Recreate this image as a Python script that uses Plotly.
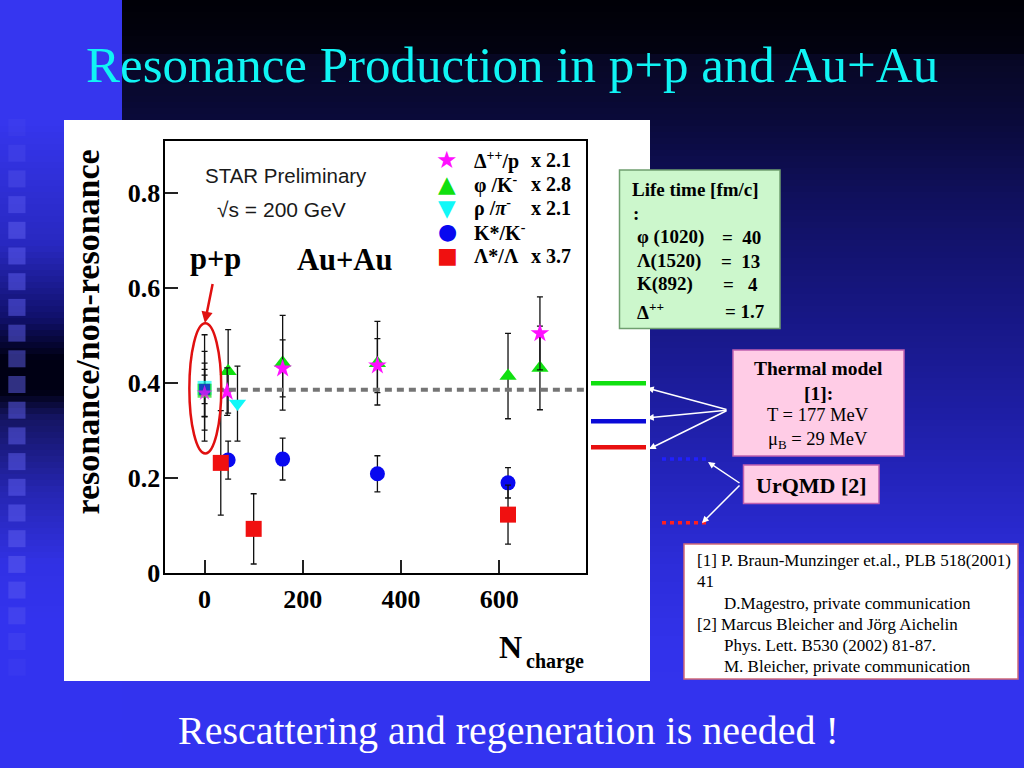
import plotly.graph_objects as go

# ---------------- data ----------------
x_ticks = [0, 200, 400, 600]
y_ticks = [0, 0.2, 0.4, 0.6, 0.8]
y_tick_labels = ["0", "0.2", "0.4", "0.6", "0.8"]

# Au+Au points
delta_x = [46, 159, 352, 683]
delta_y = [0.382, 0.431, 0.437, 0.505]
delta_err = [0.050, 0.060, 0.057, 0.077]

phi_x = [48, 159, 352, 618, 683]
phi_y = [0.425, 0.443, 0.442, 0.415, 0.432]
phi_err = [0.088, 0.100, 0.088, 0.090, 0.088]

rho_x = [67]
rho_y = [0.357]
rho_err = [0.079]

kstar_x = [48, 159, 352, 618]
kstar_y = [0.238, 0.240, 0.209, 0.190]
kstar_err = [0.040, 0.044, 0.038, 0.032]

lstar_x = [33, 100, 618]
lstar_y = [0.232, 0.093, 0.123]
lstar_err = [0.110, 0.074, 0.062]

# p+p points (order: Lambda*, rho, phi, K*, Delta)
pp_x = [0, 0, 0, 0, 0]
pp_y = [0.386, 0.390, 0.384, 0.387, 0.379]
pp_err = [0.056, 0.112, 0.083, 0.030, 0.050]

pp_level = 0.386
thermal_values = [0.400, 0.320, 0.265]   # green, blue, red
urqmd_values = [0.240, 0.106]            # blue, red

legend_names = ["Δ<sup>++</sup>/p", "φ /K<sup>-</sup>", "ρ /<i>π</i><sup>-</sup>", "K*/K<sup>-</sup>", "Λ*/Λ"]
legend_factors = ["x 2.1", "x 2.8", "x 2.1", "", "x 3.7"]
legend_glyphs = ["★", "▲", "▼", "●", "■"]

# ---------------- styling ----------------
W, H = 1024, 768
def PX(x):
    return x / W
def PY(y):
    return 1 - y / H

SERIF = "Liberation Serif, Times New Roman, serif"
SANS = "Liberation Sans, Arial, sans-serif"
SYM = "DejaVu Sans, sans-serif"

MAGENTA = "#ff10ff"
GREEN = "#10e010"
CYAN = "#10f8f8"
BLUE = "#0808f0"
RED = "#f01010"

X_RANGE = [-80, 776]
Y_RANGE = [0, 0.9096]
X_DOMAIN = [PX(165.3), PX(585.6)]
Y_DOMAIN = [PY(573.0), PY(141.3)]

fig = go.Figure()

series = [
    (kstar_x, kstar_y, kstar_err, "circle", 15, BLUE),
    (phi_x, phi_y, phi_err, "triangle-up", 15, GREEN),
    (rho_x, rho_y, rho_err, "triangle-down", 15, CYAN),
    (lstar_x, lstar_y, lstar_err, "square", 16, RED),
    (delta_x, delta_y, delta_err, "star", 14, MAGENTA),
]
for xs, ys, es, sym, size, col in series:
    fig.add_trace(go.Scatter(
        x=xs, y=ys, mode="markers",
        marker=dict(symbol=sym, size=size, color=col, line=dict(width=0)),
        error_y=dict(type="data", array=es, color="#111111", thickness=1.3, width=3),
        showlegend=False, cliponaxis=False, hoverinfo="skip"))

fig.add_trace(go.Scatter(
    x=pp_x, y=pp_y, mode="markers",
    marker=dict(symbol=["square", "square", "square", "square", "star"],
                size=[12, 14, 14, 11, 12],
                color=[RED, CYAN, GREEN, BLUE, MAGENTA], line=dict(width=0)),
    error_y=dict(type="data", array=pp_err, color="#111111", thickness=1.3, width=3),
    showlegend=False, cliponaxis=False, hoverinfo="skip"))

# ---------------- background ----------------
def lerp(stops, y):
    for (y0, c0), (y1, c1) in zip(stops, stops[1:]):
        if y0 <= y <= y1:
            t = 0 if y1 == y0 else (y - y0) / (y1 - y0)
            return "rgb(%d,%d,%d)" % tuple(round(a + (b - a) * t) for a, b in zip(c0, c1))
    return "rgb(%d,%d,%d)" % stops[-1][1]

right_stops = [(0, (0, 0, 6)), (52, (2, 2, 16)), (53, (7, 7, 34)), (120, (10, 10, 58)),
               (200, (16, 16, 94)), (300, (22, 22, 128)), (400, (29, 29, 160)),
               (480, (36, 36, 188)), (560, (44, 44, 216)), (640, (50, 50, 234)),
               (700, (51, 51, 238)), (768, (51, 51, 240))]
left_stops = [(0, (54, 54, 240)), (120, (54, 54, 238)), (245, (40, 40, 192)),
              (318, (16, 16, 106)), (358, (0, 0, 20)), (392, (0, 0, 20)),
              (416, (20, 20, 96)), (490, (37, 37, 176)), (563, (49, 49, 228)),
              (620, (51, 51, 238)), (768, (51, 51, 240))]

shapes = []
STEP = 6
for y in range(0, H, STEP):
    shapes.append(dict(type="rect", xref="paper", yref="paper", layer="below",
                       x0=PX(122), x1=1, y0=PY(y + STEP), y1=PY(y),
                       fillcolor=lerp(right_stops, y + STEP / 2), line=dict(width=0)))
    shapes.append(dict(type="rect", xref="paper", yref="paper", layer="below",
                       x0=0, x1=PX(122), y0=PY(y + STEP), y1=PY(y),
                       fillcolor=lerp(left_stops, y + STEP / 2), line=dict(width=0)))

# decorative squares column on the left strip
sq_tops = [401.7 + k * 25.7 for k in range(-11, 11)]
for i, t in enumerate(sq_tops):
    edge = min(i, len(sq_tops) - 1 - i)
    op = min(0.5, 0.12 + 0.1 * edge)
    shapes.append(dict(type="rect", xref="paper", yref="paper", layer="below",
                       x0=PX(8.3), x1=PX(25.5), y0=PY(t + 17), y1=PY(t),
                       fillcolor="rgba(95,95,240,%.2f)" % op, line=dict(width=0)))

# white picture panel
shapes.append(dict(type="rect", xref="paper", yref="paper", layer="below",
                   x0=PX(64), x1=PX(650), y0=PY(681), y1=PY(120),
                   fillcolor="white", line=dict(width=0)))

# text boxes
def box(x0, y0, x1, y1, fill, border, width=1.5):
    shapes.append(dict(type="rect", xref="paper", yref="paper", layer="below",
                       x0=PX(x0), x1=PX(x1), y0=PY(y1), y1=PY(y0),
                       fillcolor=fill, line=dict(color=border, width=width)))

box(619.5, 170, 780, 328.5, "#ccf7cc", "#6f9f6f")
box(733, 350, 904, 456, "#ffcce6", "#c060b0")
box(743.5, 465, 879, 503.5, "#ffcce6", "#c060b0")
box(684, 544, 1018, 679, "white", "#d06a78")

# p+p reference level (dashed)
shapes.append(dict(type="line", xref="x", yref="y", x0=25, x1=X_RANGE[1],
                   y0=pp_level, y1=pp_level,
                   line=dict(color="#757575", width=4, dash="7px,5px")))

# ellipse around p+p
shapes.append(dict(type="circle", xref="x", yref="y", x0=-31, x1=34, y0=0.252, y1=0.526,
                   line=dict(color="#e01010", width=2.5)))

# thermal model levels (solid) and UrQMD (dotted), drawn right of the frame
for v, c in zip(thermal_values, [GREEN, "#0a0ad8", "#e81010"]):
    shapes.append(dict(type="line", xref="paper", yref="y", x0=PX(591), x1=PX(646),
                       y0=v, y1=v, line=dict(color=c, width=4.5)))
for v, c in zip(urqmd_values, ["#2020ff", "#ff2020"]):
    shapes.append(dict(type="line", xref="paper", yref="y", x0=PX(662), x1=PX(708),
                       y0=v, y1=v, line=dict(color=c, width=3.5, dash="4px,4px")))

# ---------------- annotations ----------------
ann = []
def text(x, y, s, size, color="black", family=SERIF, xanchor="center", bold=False, angle=0):
    ann.append(dict(xref="paper", yref="paper", x=PX(x), y=PY(y), text=s, showarrow=False,
                    xanchor=xanchor, yanchor="middle", textangle=angle,
                    font=dict(family=family, size=size, color=color,
                              weight="bold" if bold else "normal")))

text(512, 65, "Resonance Production in p+p and Au+Au", 51, color="#10f4f4")
text(508, 730, "Rescattering and regeneration is needed !", 40, color="white")

text(86.5, 332, "resonance/non-resonance", 34, bold=True, angle=-90)
text(510.5, 647, "N", 32, bold=True)
text(555, 661, "charge", 20, bold=True)

text(286, 176, "STAR Preliminary", 20.5, color="#1a1a1a", family=SANS)
text(281, 209, "√s = 200 GeV", 21, color="#1a1a1a", family=SANS)
text(215, 259, "p+p", 30.5, bold=True)
text(344, 260, "Au+Au", 30.5, bold=True)

# legend
rows = [160, 184, 208, 232, 256]
glyph_cols = [MAGENTA, GREEN, CYAN, BLUE, RED]
glyph_sizes = [24, 23, 23, 22, 22]
for r, g, gc, gs, nm, fc in zip(rows, legend_glyphs, glyph_cols, glyph_sizes, legend_names, legend_factors):
    text(447, r, g, gs, color=gc, family=SYM)
    text(472, r, nm, 20, bold=True, xanchor="left")
    if fc:
        text(529, r, fc, 20, bold=True, xanchor="left")

# life time box
text(630, 189, "Life time [fm/c]", 19, bold=True, xanchor="left")
text(631, 214, ":", 19, bold=True, xanchor="left")
life_left = ["φ (1020)", "Λ(1520)", "K(892)", "Δ<sup>++</sup>"]
life_right = ["=\u00a0\u00a040", "=\u00a0\u00a013", "=\u00a0\u00a0\u00a04", "=\u00a01.7"]
life_right_x = [763, 762, 760, 767]
for yy, l, rt, rx in zip([237, 261, 284, 311], life_left, life_right, life_right_x):
    text(635, yy, l, 19, bold=True, xanchor="left")
    text(rx, yy, rt, 19, bold=True, xanchor="right")

# thermal model box
text(818, 368, "Thermal model", 19.5, bold=True)
text(818, 393, "[1]:", 19.5, bold=True)
text(818, 415, "T = 177 MeV", 18.5)
text(818, 440, "μ<sub>B</sub> = 29 MeV", 18.5)

# UrQMD box
text(811, 485, "UrQMD [2]", 22, bold=True)

# references box
refs = [(695, 560, "[1] P. Braun-Munzinger et.al., PLB 518(2001)"),
        (695, 581, "41"),
        (722, 603, "D.Magestro, private communication"),
        (695, 624, "[2] Marcus Bleicher and Jörg Aichelin"),
        (722, 645, "Phys. Lett. B530 (2002) 81-87."),
        (722, 666, "M. Bleicher, private communication")]
for rx, ry, s in refs:
    text(rx, ry, s, 17, xanchor="left")

# arrows (head position in paper coords, tail given as pixel offset)
def arrow(hx, hy, tx, ty, color="white", width=1.5, head=2, size=0.9):
    ann.append(dict(xref="paper", yref="paper", axref="pixel", ayref="pixel",
                    x=PX(hx), y=PY(hy), ax=tx - hx, ay=ty - hy, text="", showarrow=True,
                    arrowcolor=color, arrowwidth=width, arrowhead=head, arrowsize=size,
                    standoff=0, startstandoff=0))

for hx, hy in [(647, 388), (647, 418), (649, 449)]:
    arrow(hx, hy, 728, 410)
for hx, hy in [(708, 462), (702, 523)]:
    arrow(hx, hy, 741, 484)

# red arrow from "p+p" label to the ellipse
ann.append(dict(xref="x", yref="y", axref="x", ayref="y", x=0.5, y=0.527, ax=17, ay=0.612,
                text="", showarrow=True, arrowcolor="#e01010", arrowwidth=2.5,
                arrowhead=2, arrowsize=0.9, standoff=0, startstandoff=0))

axis_font = dict(family=SERIF, size=26, color="black", weight="bold")
fig.update_layout(
    autosize=True, margin=dict(l=0, r=0, t=0, b=0, pad=0, autoexpand=False),
    paper_bgcolor="#3333ee", plot_bgcolor="rgba(0,0,0,0)", showlegend=False,
    xaxis=dict(domain=X_DOMAIN, range=X_RANGE, tickvals=x_ticks, ticks="inside",
               ticklen=13, tickwidth=1.5, tickcolor="#222222", showline=True, mirror=True,
               linecolor="black", linewidth=1.5, showgrid=False, zeroline=False,
               tickfont=axis_font, ticklabelstandoff=2, fixedrange=True, automargin=False),
    yaxis=dict(domain=Y_DOMAIN, range=Y_RANGE, tickvals=y_ticks, ticktext=y_tick_labels,
               ticks="inside", ticklen=13, tickwidth=1.5, tickcolor="#222222",
               showline=True, mirror=True, linecolor="black", linewidth=1.5,
               showgrid=False, zeroline=False, tickfont=axis_font, ticklabelstandoff=-2,
               fixedrange=True, automargin=False),
    shapes=shapes, annotations=ann,
)

fig.write_html(
    "out.html",
    config={"displayModeBar": False, "responsive": True},
    default_width="100vw", default_height="100vh",
    post_script=("document.documentElement.style.overflow='hidden';"
                 "document.body.style.margin='0px';document.body.style.overflow='hidden';"
                 "Plotly.Plots.resize(document.getElementById('{plot_id}'));"),
)
